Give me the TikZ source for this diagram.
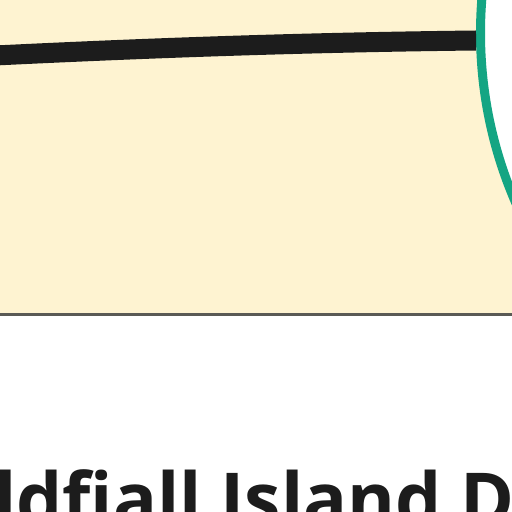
\documentclass[tikz,border=0pt]{standalone}
\usepackage{fontspec}
\setmainfont{Open Sans}
\definecolor{cream}{HTML}{FEF3D1}
\definecolor{teal1}{HTML}{14A583}
\definecolor{ink}{HTML}{1C1C1C}
\definecolor{edge}{HTML}{5A5A55}
\tikzset{
  road/.style={draw=ink, line width=20pt, line cap=butt},
  island/.style={circle, draw=teal1, fill=white, line width=9pt, minimum size=851pt, inner sep=0pt},
  title/.style={font=\fontsize{73}{80}\selectfont\bfseries, text=ink, inner sep=0pt, anchor=base west}
}
\begin{document}
\begin{tikzpicture}[x=1pt,y=1pt]
\useasboundingbox (0,0) rectangle (512,512);
\clip (0,0) rectangle (512,512);
\fill[white] (0,0) rectangle (512,512);
\fill[cream] (-10,199) rectangle (520,520);
\draw[edge, line width=3pt] (-10,197.5) -- (520,197.5);
\node[island] (isl) at (906,479) {};
\coordinate (start) at (-5,456.5);
\draw[road] (start) .. controls (150,464) and (300,469.5) .. (isl.181.3);
\node[title] (ttl) at (-6,-13) {ldf\kern0pt iall Island D};
\end{tikzpicture}
\end{document}
